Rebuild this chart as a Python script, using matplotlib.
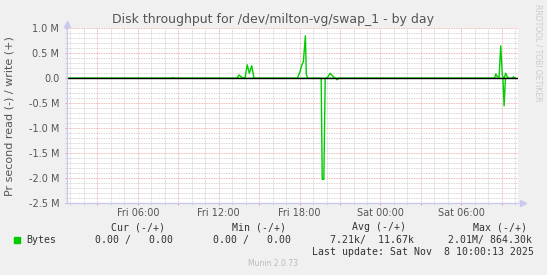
import numpy as np
import matplotlib
matplotlib.use("Agg")
import matplotlib.pyplot as plt
from matplotlib.ticker import MultipleLocator, FuncFormatter

# hours since Fri 00:00, values in MB/s (write = positive, read = plotted negative)
write_hours = [0.75, 8.5, 8.61, 8.72, 13.34, 13.51, 13.71, 13.95, 14.12, 14.27, 14.45, 14.62,
               17.83, 18.03, 18.16, 18.28, 18.43, 18.5, 18.6, 20.0, 20.1, 20.26, 20.41, 20.55, 20.66,
               32.45, 32.55, 32.67, 32.8, 32.92, 33.04, 33.17, 33.29, 33.41, 33.54, 33.75, 33.86, 34.0]
write_vals = [0, 0, 0.015, 0, 0, 0.066, 0.02, 0, 0.27, 0.1, 0.25, 0,
              0, 0.13, 0.26, 0.33, 0.85, 0.08, 0, 0, 0.03, 0.1, 0.06, 0.02, 0,
              0, 0.086, 0.03, 0.03, 0.65, 0.05, 0, 0.1, 0.03, 0, 0, 0.03, 0]
read_hours = [0.75, 19.6, 19.68, 19.8, 19.9, 20.7, 20.78, 20.9, 33.08, 33.17, 33.27, 34.0]
read_vals = [0, 0, 2.02, 2.02, 0, 0, 0.03, 0, 0, 0.55, 0, 0]

tick_hours = [6, 12, 18, 24, 30]
tick_labels = ["Fri 06:00", "Fri 12:00", "Fri 18:00", "Sat 00:00", "Sat 06:00"]

W, H = 547, 275
fig = plt.figure(figsize=(W / 100, H / 100), dpi=100, facecolor="#F0F0F0")
ax = fig.add_axes([67 / W, (H - 203.3) / H, 451 / W, 175 / H])
ax.set_facecolor("white")

x0, x1 = 0.75, 34.2
ax.set_xlim(x0, x1)
ax.set_ylim(-2.5e6, 1.0e6)

# grid (rrdtool style)
ax.xaxis.set_major_locator(MultipleLocator(3))
ax.xaxis.set_minor_locator(MultipleLocator(1))
ax.yaxis.set_major_locator(MultipleLocator(0.5e6))
ax.yaxis.set_minor_locator(MultipleLocator(0.1e6))
ax.grid(which="minor", color="#c8c8c8", linestyle=(0, (1, 1)), linewidth=0.6)
ax.grid(which="major", color="#eaa0a0", linestyle=(0, (1, 1)), linewidth=0.6)
ax.set_axisbelow(True)

lab = dict(zip(tick_hours, tick_labels))
ax.xaxis.set_major_formatter(FuncFormatter(lambda v, p: lab.get(int(round(v)), "")))


def yfmt(v, p):
    if abs(v) < 1:
        return "0.0"
    return "%.1f M" % (v / 1e6)


ax.yaxis.set_major_formatter(FuncFormatter(yfmt))
ax.tick_params(which="major", length=1.5, color="#e0a0a0", labelsize=7, labelcolor="#555555", pad=2)
ax.tick_params(axis="y", which="major", pad=4)
ax.tick_params(which="minor", length=1.5, color="#cccccc")

for s in ["top", "right"]:
    ax.spines[s].set_visible(False)
for s in ["left", "bottom"]:
    ax.spines[s].set_color("#c8c8f0")
    ax.spines[s].set_linewidth(1)

# arrows at the axis ends
ax.plot([0], [1.025], marker="^", color="#c8c8f0", markersize=4, transform=ax.transAxes, clip_on=False)
ax.plot([1.01], [0], marker=">", color="#c8c8f0", markersize=4, transform=ax.transAxes, clip_on=False)

w = np.array(write_vals) * 1e6
r = -np.array(read_vals) * 1e6
ax.plot(write_hours, w, color="#00cc00", linewidth=1)
ax.plot(read_hours, r, color="#00cc00", linewidth=1)
ax.axhline(0, color="black", linewidth=1)

fig.text(10 / W, 1 - 116 / H, "Pr second read (-) / write (+)", rotation=90,
         ha="center", va="center", fontsize=8, color="#555555")

fig.text(273 / W, 1 - 19.5 / H, "Disk throughput for /dev/milton-vg/swap_1 - by day",
         ha="center", va="center", fontsize=9, color="#555555")
fig.text(538 / W, 1 - 53 / H, "RRDTOOL / TOBI OETIKER", rotation=270, ha="center", va="center",
         fontsize=5.5, color="#cccccc")

# legend (monospace)
mono = dict(family="DejaVu Sans Mono", fontsize=7.15, color="#333333", va="center")


def t(x, y, s):
    fig.text(x / W, 1 - y / H, s, **mono)


t(111, 227.3, "Cur (-/+)")
t(231.7, 227.3, "Min (-/+)")
t(352, 227.3, "Avg (-/+)")
t(473, 227.3, "Max (-/+)")
t(26, 240, "Bytes")
t(95, 240, "0.00 /   0.00")
t(213, 240, "0.00 /   0.00")
t(330, 240, "7.21k/  11.67k")
t(448, 240, "2.01M/ 864.30k")
t(311.6, 251.7, "Last update: Sat Nov  8 10:00:13 2025")
fig.patches.append(plt.Rectangle((14 / W, 1 - 243 / H), 6 / W, 6 / H, transform=fig.transFigure,
                                 color="#00cc00"))
fig.text(273 / W, 1 - 264 / H, "Munin 2.0.73", ha="center", va="center", fontsize=5.5, color="#bbbbbb")

fig.savefig("out.png", dpi=100, facecolor=fig.get_facecolor())
